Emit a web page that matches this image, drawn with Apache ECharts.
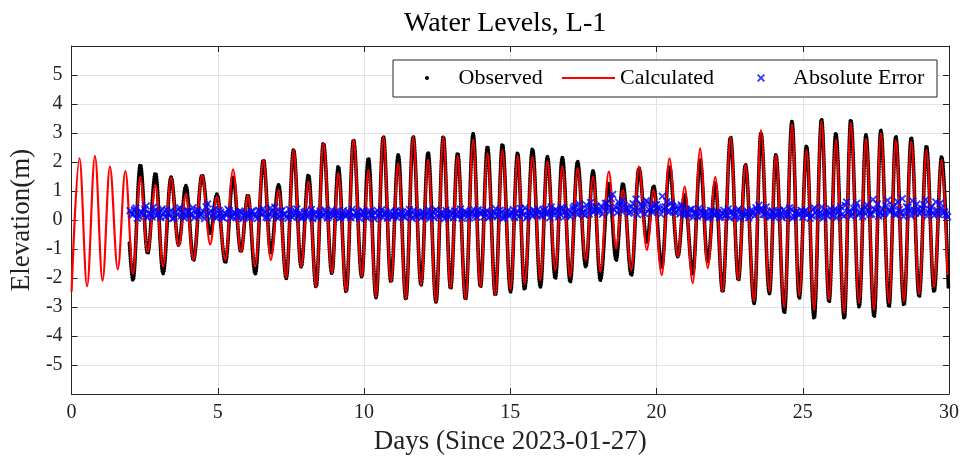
<!DOCTYPE html>
<html>
<head>
<meta charset="utf-8">
<script src="https://cdn.jsdelivr.net/npm/echarts@6/dist/echarts.min.js"></script>
<style>html,body{margin:0;padding:0;background:#fff;}#chart{width:964px;height:465px;}</style>
</head>
<body>
<div id="chart"></div>
<script>
// Times (days) of the highs and lows shared by both series
const tideDays = [
  2.10,2.35,2.60,2.87,3.13,3.40,3.66,3.91,4.17,4.46,
  4.74,4.97,5.26,5.52,5.79,6.03,6.28,6.56,6.81,7.08,
  7.34,7.59,7.85,8.10,8.36,8.61,8.90,9.12,9.39,9.64,
  9.92,10.15,10.41,10.66,10.92,11.17,11.43,11.68,11.95,12.19,
  12.46,12.71,12.96,13.20,13.47,13.73,13.98,14.22,14.49,14.73,
  15.01,15.25,15.49,15.76,16.03,16.27,16.54,16.78,17.05,17.30,
  17.58,17.83,18.08,18.37,18.62,18.85,19.14,19.40,19.67,19.90,
  20.18,20.44,20.73,20.96,21.24,21.49,21.75,22.01,22.26,22.53,
  22.80,23.04,23.34,23.57,23.86,24.08,24.37,24.63,24.88,25.13,
  25.39,25.64,25.90,26.13,26.42,26.64,26.93,27.16,27.44,27.67,
  27.95,28.18,28.46,28.71,28.98,29.23,29.49,29.75
];
const observedLevels = [
  -2.07,1.90,-1.15,1.61,-1.84,1.47,-0.86,1.18,-1.38,1.55,
  -0.48,0.89,-1.47,1.49,-1.09,0.86,-1.85,2.07,-1.15,1.21,
  -2.01,2.41,-1.61,1.55,-2.30,2.64,-1.84,1.84,-2.47,2.76,
  -1.95,2.13,-2.67,2.87,-2.13,2.24,-2.73,2.87,-2.24,2.33,
  -2.82,2.87,-2.36,2.30,-2.73,2.97,-2.30,2.53,-2.59,2.61,
  -2.47,2.30,-2.39,2.44,-2.30,2.18,-2.01,2.15,-2.13,2.01,
  -1.61,1.69,-2.07,1.26,-1.38,1.26,-1.90,1.78,-0.75,1.17,
  -1.61,1.84,-1.26,0.86,-1.84,2.07,-1.43,1.26,-2.47,2.85,
  -2.07,1.90,-2.87,3.00,-2.53,2.24,-3.20,3.39,-2.70,2.55,
  -3.39,3.47,-2.82,2.99,-3.39,3.45,-2.99,2.93,-3.33,3.08,
  -2.99,2.87,-2.93,2.84,-2.64,2.55,-2.47,2.18
];
const calculatedLevels = [
  -1.85,1.49,-1.10,1.21,-1.60,1.45,-0.90,0.90,-1.38,1.55,
  -0.84,0.81,-1.37,1.75,-1.10,0.86,-1.60,2.07,-1.38,1.03,
  -2.00,2.41,-1.61,1.32,-2.30,2.64,-1.84,1.61,-2.47,2.76,
  -1.95,1.72,-2.67,2.87,-2.13,1.95,-2.73,2.87,-2.24,2.07,
  -2.82,2.87,-2.36,2.20,-2.73,2.76,-2.30,2.30,-2.59,2.41,
  -2.40,2.20,-2.20,2.18,-2.07,2.01,-1.72,1.84,-1.95,1.78,
  -1.38,1.49,-1.78,1.67,-0.98,1.03,-1.72,1.84,-1.03,1.03,
  -1.90,2.13,-1.26,1.15,-2.18,2.47,-1.66,1.49,-2.47,2.85,
  -2.07,1.90,-2.80,3.10,-2.45,2.24,-3.00,3.30,-2.60,2.41,
  -3.10,3.40,-2.75,2.76,-3.20,3.35,-2.85,2.80,-3.10,3.00,
  -2.85,2.75,-2.80,2.70,-2.55,2.41,-2.30,2.07
];
// Model spin-up before observations begin
const leadDays = [0.00,0.27,0.53,0.80,1.06,1.31,1.58,1.84];
const leadCalculated = [-2.47,2.13,-2.28,2.20,-2.09,1.84,-1.70,1.69];
// Record ends
const observedStart = [1.98, -0.80];
const observedEnd = [29.98, -2.36];
const calculatedEnd = [29.95, -1.90];
// Absolute error samples: set A every 0.1 day from day 2.00, set B every 0.1 day from day 2.05
const errorStepDay = 0.1;
const errorStartA = 2.0;
const absoluteErrorA = [
  0.32,0.18,0.41,0.12,0.27,0.36,0.09,0.22,0.44,0.15,
  0.28,0.38,0.11,0.24,0.33,0.07,0.19,0.42,0.26,0.13,
  0.31,0.21,0.08,0.35,0.17,0.29,0.46,0.23,0.12,0.38,
  0.14,0.27,0.06,0.19,0.32,0.11,0.24,0.09,0.28,0.16,
  0.21,0.08,0.29,0.13,0.34,0.18,0.26,0.07,0.41,0.15,
  0.24,0.11,0.33,0.19,0.06,0.27,0.16,0.38,0.22,0.09,
  0.29,0.14,0.36,0.21,0.08,0.31,0.17,0.25,0.12,0.34,
  0.19,0.27,0.09,0.33,0.15,0.24,0.37,0.11,0.28,0.18,
  0.23,0.08,0.31,0.16,0.26,0.12,0.35,0.21,0.07,0.29,
  0.14,0.32,0.19,0.25,0.09,0.28,0.17,0.34,0.11,0.22,
  0.27,0.13,0.36,0.18,0.08,0.30,0.21,0.15,0.33,0.10,
  0.24,0.31,0.12,0.38,0.19,0.26,0.07,0.29,0.16,0.35,
  0.20,0.11,0.33,0.25,0.14,0.39,0.18,0.27,0.09,0.31,
  0.17,0.36,0.22,0.12,0.29,0.41,0.15,0.26,0.34,0.19,
  0.28,0.13,0.38,0.23,0.45,0.16,0.32,0.21,0.40,0.14,
  0.35,0.24,0.47,0.18,0.39,0.29,0.52,0.21,0.43,0.33,
  0.26,0.48,0.37,0.58,0.29,0.88,0.44,0.62,0.31,0.51,
  0.39,0.27,0.56,0.72,0.34,0.49,0.22,0.61,0.41,0.30,
  0.53,0.36,0.82,0.45,0.27,0.58,0.33,0.48,0.21,0.40,
  0.29,0.17,0.37,0.24,0.12,0.33,0.19,0.28,0.09,0.31,
  0.16,0.25,0.11,0.34,0.20,0.07,0.29,0.14,0.37,0.22,
  0.13,0.31,0.19,0.26,0.42,0.51,0.35,0.18,0.28,0.11,
  0.24,0.16,0.33,0.08,0.27,0.19,0.36,0.12,0.29,0.21,
  0.10,0.34,0.22,0.15,0.41,0.18,0.27,0.07,0.31,0.24,
  0.16,0.38,0.25,0.46,0.13,0.62,0.30,0.21,0.44,0.17,
  0.35,0.26,0.52,0.19,0.71,0.33,0.14,0.40,0.24,0.68,
  0.29,0.47,0.18,0.36,0.73,0.25,0.43,0.15,0.34,0.55,
  0.22,0.38,0.70,0.27,0.45,0.16,0.33,0.58,0.24,0.19
];
const errorStartB = 2.05;
const absoluteErrorB = [
  0.21,0.35,0.06,0.29,0.17,0.48,0.24,0.11,0.33,0.19,
  0.09,0.23,0.34,0.16,0.05,0.27,0.37,0.14,0.08,0.31,
  0.18,0.42,0.26,0.13,0.24,0.05,0.55,0.31,0.20,0.07,
  0.33,0.10,0.22,0.37,0.08,0.26,0.15,0.31,0.04,0.23,
  0.12,0.30,0.18,0.05,0.25,0.39,0.10,0.22,0.28,0.44,
  0.07,0.29,0.20,0.12,0.36,0.09,0.30,0.14,0.05,0.26,
  0.11,0.22,0.05,0.28,0.18,0.13,0.35,0.07,0.23,0.16,
  0.30,0.06,0.20,0.14,0.29,0.08,0.17,0.25,0.05,0.32,
  0.13,0.27,0.19,0.04,0.33,0.22,0.09,0.28,0.16,0.11,
  0.26,0.07,0.30,0.13,0.21,0.36,0.05,0.19,0.27,0.08,
  0.15,0.24,0.06,0.28,0.35,0.12,0.26,0.04,0.20,0.29,
  0.08,0.18,0.27,0.06,0.31,0.14,0.22,0.36,0.10,0.25,
  0.31,0.23,0.07,0.17,0.28,0.12,0.34,0.05,0.22,0.15,
  0.26,0.09,0.31,0.40,0.18,0.07,0.30,0.14,0.22,0.37,
  0.16,0.33,0.25,0.08,0.29,0.36,0.11,0.43,0.27,0.20,
  0.12,0.41,0.30,0.55,0.24,0.16,0.38,0.60,0.28,0.46,
  0.34,0.20,0.57,0.42,0.73,0.36,0.25,0.50,0.67,0.40,
  0.23,0.46,0.33,0.18,0.55,0.42,0.66,0.35,0.27,0.51,
  0.44,0.20,0.38,0.63,0.30,0.47,0.25,0.36,0.52,0.17,
  0.22,0.36,0.10,0.27,0.40,0.15,0.25,0.06,0.33,0.19,
  0.27,0.09,0.24,0.16,0.38,0.28,0.12,0.32,0.05,0.26,
  0.21,0.08,0.35,0.14,0.30,0.38,0.20,0.45,0.12,0.32,
  0.09,0.29,0.20,0.35,0.13,0.42,0.06,0.25,0.17,0.33,
  0.27,0.18,0.06,0.36,0.25,0.12,0.45,0.22,0.14,0.38,
  0.29,0.08,0.33,0.20,0.50,0.27,0.14,0.39,0.58,0.24,
  0.12,0.44,0.30,0.21,0.37,0.55,0.26,0.17,0.48,0.32,
  0.40,0.20,0.62,0.27,0.12,0.45,0.33,0.66,0.23,0.38,
  0.30,0.52,0.14,0.36,0.25,0.62,0.19,0.41,0.28,0.11
];
const xTicks = {min: 0, max: 30, interval: 5};
const yTicks = {min: -6, max: 6, interval: 1};

const FONT = '"Liberation Serif", "Times New Roman", serif';
const AX = '#262626';
const XMARK = 'path://M0,1.6L1.6,0L5,3.4L8.4,0L10,1.6L6.6,5L10,8.4L8.4,10L5,6.6L1.6,10L0,8.4L3.4,5Z';

const calcData = leadDays.map((d, i) => [d, leadCalculated[i]])
  .concat(tideDays.map((d, i) => [d, calculatedLevels[i]]))
  .concat([calculatedEnd]);
const obsData = [observedStart]
  .concat(tideDays.map((d, i) => [d, observedLevels[i]]))
  .concat([observedEnd]);
const r2 = v => Math.round(v * 100) / 100;
const errData = absoluteErrorA.map((v, i) => [r2(errorStartA + i * errorStepDay), v])
  .concat(absoluteErrorB.map((v, i) => [r2(errorStartB + i * errorStepDay), v]))
  .sort((a, b) => a[0] - b[0]);

const chart = echarts.init(document.getElementById('chart'), null, {renderer: 'canvas'});
const baseX = {
  type: 'value', min: xTicks.min, max: xTicks.max, interval: xTicks.interval,
  axisLine: {show: true, onZero: false, lineStyle: {color: AX, width: 1}},
  axisTick: {show: true, inside: true, length: 6, lineStyle: {color: AX}},
};
const baseY = {
  type: 'value', min: yTicks.min, max: yTicks.max, interval: yTicks.interval,
  axisLine: {show: true, onZero: false, lineStyle: {color: AX, width: 1}},
  axisTick: {show: true, inside: true, length: 6, lineStyle: {color: AX}},
};
const legendText = {fontFamily: FONT, fontSize: 22, color: '#000'};
chart.setOption({
  animation: false,
  backgroundColor: '#ffffff',
  title: {
    text: 'Water Levels, L-1', left: 404, top: 10, padding: 0,
    textStyle: {fontFamily: FONT, fontSize: 28, fontWeight: 'normal', color: '#000'}
  },
  grid: {left: 71, right: 15, top: 46, bottom: 71, containLabel: false},
  xAxis: [
    Object.assign({}, baseX, {
      position: 'bottom',
      axisLabel: {fontFamily: FONT, fontSize: 20, color: '#222', margin: 9},
      splitLine: {show: true, lineStyle: {color: '#e3e3e3', width: 1}},
      name: 'Days (Since 2023-01-27)', nameLocation: 'middle', nameGap: 34,
      nameTextStyle: {fontFamily: FONT, fontSize: 27, color: '#222', verticalAlign: 'top'}
    }),
    Object.assign({}, baseX, {position: 'top', axisLabel: {show: false}, splitLine: {show: false}})
  ],
  yAxis: [
    Object.assign({}, baseY, {
      position: 'left',
      axisLabel: {fontFamily: FONT, fontSize: 20, color: '#222', margin: 9,
        formatter: v => (v === yTicks.min || v === yTicks.max) ? '' : String(v)},
      splitLine: {show: true, lineStyle: {color: '#e3e3e3', width: 1}},
      name: 'Elevation(m)', nameLocation: 'middle', nameGap: 36,
      nameTextStyle: {fontFamily: FONT, fontSize: 27, color: '#222'}
    }),
    Object.assign({}, baseY, {position: 'right', axisLabel: {show: false}, splitLine: {show: false}})
  ],
  graphic: [{
    type: 'rect', z: 50, silent: true,
    shape: {x: 393, y: 60, width: 544, height: 37},
    style: {fill: '#ffffff', stroke: AX, lineWidth: 1}
  }],
  legend: [
    {data: [{name: 'Observed', icon: 'circle'}], left: 425, top: 67, padding: 0, itemWidth: 53, itemHeight: 4, z: 60,
     textStyle: legendText, selectedMode: false},
    {data: [{name: 'Calculated', icon: 'rect'}], left: 562, top: 67, padding: 0, itemWidth: 53, itemHeight: 2, z: 60,
     textStyle: legendText, selectedMode: false},
    {data: [{name: 'Absolute Error', icon: XMARK}], left: 757, top: 67, padding: 0, itemWidth: 54, itemHeight: 8, z: 60,
     textStyle: legendText, selectedMode: false}
  ],
  series: [
    {
      name: 'Observed', type: 'line', data: obsData, smooth: 0.36, smoothMonotone: 'x',
      showSymbol: false, color: '#000000', z: 2,
      lineStyle: {color: '#000000', width: 4, type: [0.01, 2.6], cap: 'round'}
    },
    {
      name: 'Calculated', type: 'line', data: calcData, smooth: 0.36, smoothMonotone: 'x',
      showSymbol: false, color: '#ff0000', z: 3,
      lineStyle: {color: '#ff0000', width: 2.2}
    },
    {
      name: 'Absolute Error', type: 'scatter', data: errData, symbol: XMARK, symbolSize: 8,
      color: '#0000ff', z: 4, itemStyle: {color: '#0000ff'}
    }
  ]
});
</script>
</body>
</html>
